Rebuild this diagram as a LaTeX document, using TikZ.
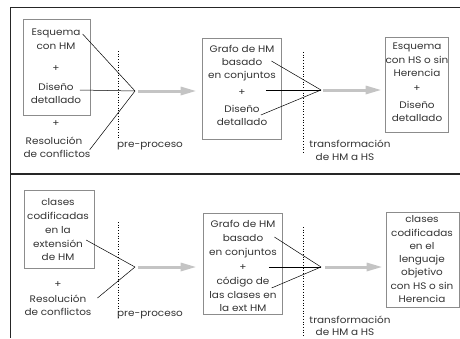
\documentclass[tikz,border=0pt]{standalone}
\usepackage{fontspec}
\setmainfont{Poppins}[FakeStretch=1.1]
\usetikzlibrary{arrows.meta}
\definecolor{txtc}{HTML}{333333}
\definecolor{boxc}{HTML}{8C8C8C}
\definecolor{flowc}{HTML}{C4C4C4}
\tikzset{
  t/.style={font=\fontsize{9.5}{11}\selectfont, text=txtc, inner sep=0pt, text height=6.5pt, text depth=1.5pt, anchor=center},
  boxed/.style={draw=boxc, line width=0.8pt, inner sep=0pt},
  link/.style={draw=black, line width=0.5pt},
  flow/.style={draw=flowc, line width=3pt, -{Triangle[length=16pt,width=8pt]}},
  sepline/.style={draw=black, dotted, line width=0.7pt},
  frameline/.style={draw=black!85, line width=1pt}
}
\begin{document}
\begin{tikzpicture}[x=1pt,y=-1pt]
\useasboundingbox (0,0) rectangle (460,338);
% frame
\coordinate (f1) at (10,7);
\coordinate (f2) at (460,7);
\coordinate (f3) at (10,338);
\coordinate (f4) at (10,174);
\coordinate (f5) at (460,174);
\draw[frameline] (f2) -- (f1) -- (f3);
\draw[frameline, line width=1.3pt] (f4) -- (f5);

% ================= TOP PANEL =================
\node[boxed, minimum width=67pt, minimum height=96pt] (A1) at (56.5,67) {};
\node[t] (a1) at (56,33) {Esquema};
\node[t] (a2) at (56,47) {con HM};
\node[t] (a3) at (56,69) {+};
\node[t] (a4) at (56,88) {Diseño};
\node[t] (a5) at (56,101) {detallado};
\node[t] (a6) at (56,124) {+};
\node[t] (a7) at (54,142) {Resolución};
\node[t] (a8) at (57,155) {de conflictos};
\coordinate (c1) at (135,91);
\draw[link] ([shift={(2,1)}]a1.east) -- (c1);
\draw[link] ([shift={(6,2)}]a4.east) -- (c1);
\draw[link] ([shift={(-1,-1)}]a8.north east) -- (c1);
\coordinate (d1a) at (118,51);
\coordinate (d1b) at (118,139);
\draw[sepline] (d1a) -- (d1b);
\node[t] (pp1) at (150,145) {pre-proceso};

\node[boxed, minimum width=79pt, minimum height=101pt] (B1) at (241.5,88.5) {};
\node[t] (b1) at (242,50) {Grafo de HM};
\node[t] (b2) at (242,63) {basado};
\node[t] (b3) at (242,76) {en conjuntos};
\node[t] (b4) at (242,93) {+};
\node[t] (b5) at (242,110) {Diseño};
\node[t] (b6) at (242,123) {detallado};
\draw[flow] ([xshift=3pt]c1) -- ([xshift=-5pt]B1.west |- c1);
\coordinate (c2) at (321,90);
\draw[link] ([shift={(9,-2)}]b2.east) -- (c2);
\draw[link] ([shift={(20,-3)}]b4.east) -- (c2);
\draw[link] ([shift={(1,5)}]b5.east) -- (c2);
\coordinate (d2a) at (303,52);
\coordinate (d2b) at (303,153);
\draw[sepline] (d2a) -- (d2b);
\node[t] (tr1) at (350,145) {transformación};
\node[t] (tr2) at (345,158) {de HM a HS};

\node[boxed, minimum width=63pt, minimum height=95pt] (C1) at (416.5,84.5) {};
\node[t] (e1) at (417,47) {Esquema};
\node[t] (e2) at (417,61) {con HS o sin};
\node[t] (e3) at (417,74) {Herencia};
\node[t] (e4) at (417,89) {+};
\node[t] (e5) at (417,106) {Diseño};
\node[t] (e6) at (417,119) {detallado};
\draw[flow] ([xshift=2pt]c2) -- ([xshift=-3pt]C1.west |- c2);

% ================= BOTTOM PANEL =================
\node[boxed, minimum width=70pt, minimum height=78pt] (A2) at (59,229) {};
\node[t] (g1) at (58,203) {clases};
\node[t] (g2) at (58,217) {codificadas};
\node[t] (g3) at (58,231) {en la};
\node[t] (g4) at (58,245) {extensión};
\node[t] (g5) at (58,258) {de HM};
\node[t] (g6) at (58,285) {+};
\node[t] (g7) at (58,300) {Resolución};
\node[t] (g8) at (58,313) {de conflictos};
\coordinate (c3) at (135,267);
\draw[link] ([shift={(3,-5)}]g4.east) -- (c3);
\draw[link] ([shift={(11,-2)}]g7.east) -- (c3);
\coordinate (d3a) at (118,222);
\coordinate (d3b) at (118,317);
\draw[sepline] (d3a) -- (d3b);
\node[t] (pp2) at (150,314) {pre-proceso};

\node[boxed, minimum width=79pt, minimum height=101pt] (B2) at (242.5,263.5) {};
\node[t] (h1) at (243,225) {Grafo de HM};
\node[t] (h2) at (243,239) {basado};
\node[t] (h3) at (243,253) {en conjuntos};
\node[t] (h4) at (243,268) {+};
\node[t] (h5) at (243,282) {código de};
\node[t] (h6) at (243,296) {las clases en};
\node[t] (h7) at (243,309) {la ext HM};
\draw[flow] ([xshift=3pt]c3) -- ([xshift=-6pt]B2.west |- c3);
\coordinate (c4) at (321,267);
\draw[link] ([shift={(11,-2)}]h2.east) -- (c4);
\draw[link] ([shift={(22,-1)}]h4.east) -- (c4);
\draw[link] ([shift={(2,6)}]h5.east) -- (c4);
\coordinate (d4a) at (303,227);
\coordinate (d4b) at (303,337);
\draw[sepline] (d4a) -- (d4b);
\node[t] (tr3) at (350,321) {transformación};
\node[t] (tr4) at (345,332.5) {de HM a HS};

\node[boxed, minimum width=73pt, minimum height=95pt] (C2) at (422.5,259.5) {};
\node[t] (k1) at (422,220) {clases};
\node[t] (k2) at (422,234) {codificadas};
\node[t] (k3) at (422,247) {en el};
\node[t] (k4) at (422,260) {lenguaje};
\node[t] (k5) at (422,273) {objetivo};
\node[t] (k6) at (422,287) {con HS o sin};
\node[t] (k7) at (422,300) {Herencia};
\draw[flow] ([xshift=4pt]c4) -- ([xshift=-3pt]C2.west |- c4);
\end{tikzpicture}
\end{document}
